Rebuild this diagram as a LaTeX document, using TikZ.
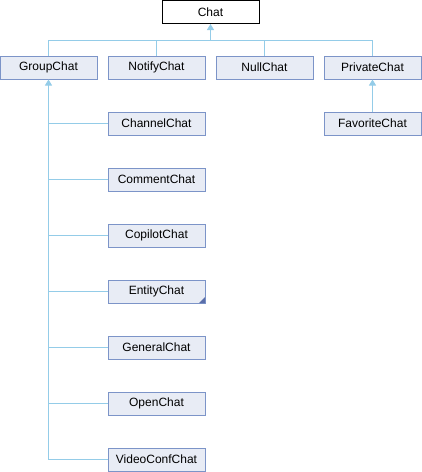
\documentclass[tikz,border=0pt]{standalone}
\usepackage{fontspec}
\setmainfont{Liberation Sans}
\usetikzlibrary{arrows.meta}
\definecolor{boxfill}{RGB}{232,236,245}
\definecolor{boxline}{RGB}{124,148,200}
\definecolor{edge}{RGB}{148,204,232}
\definecolor{marker}{RGB}{90,110,170}
\tikzset{
  cls/.style={draw=boxline, fill=boxfill, line width=1pt, minimum width=97pt, minimum height=23pt, inner sep=0pt, font=\fontsize{12}{14}\selectfont},
  rootcls/.style={cls, draw=black, fill=white},
  link/.style={draw=edge, line width=1pt},
  inherit/.style={link, -{Triangle[width=7pt,length=6pt]}}
}
\begin{document}
\begin{tikzpicture}[x=1pt,y=-1pt]
\useasboundingbox (0,0) rectangle (422,472);
\node[rootcls] (chat) at (210.5,12) {Chat};
\node[cls] (group) at (48.5,67.5) {GroupChat};
\node[cls] (notify) at (156.5,67.5) {NotifyChat};
\node[cls] (null) at (264.5,67.5) {NullChat};
\node[cls] (private) at (372.5,67.5) {PrivateChat};
\node[cls] (favorite) at (372.5,123.5) {FavoriteChat};
\node[cls] (channel) at (156.5,123.5) {ChannelChat};
\node[cls] (comment) at (156.5,179.5) {CommentChat};
\node[cls] (copilot) at (156.5,235.5) {CopilotChat};
\node[cls] (entity) at (156.5,291.5) {EntityChat};
\node[cls] (general) at (156.5,347.5) {GeneralChat};
\node[cls] (open) at (156.5,403.5) {OpenChat};
\node[cls] (video) at (156.5,459.5) {VideoConfChat};
\fill[marker] ([xshift=-0.5pt,yshift=6.5pt]entity.south east) -- ([xshift=-0.5pt,yshift=0.5pt]entity.south east) -- ([xshift=-6.5pt,yshift=0.5pt]entity.south east) -- cycle;
% Chat hierarchy
\coordinate (chatbus) at (210.5,40);
\foreach \c in {group,notify,null,private}
  \draw[link] (\c.north) |- (chatbus);
\draw[inherit] (chatbus) -- (chat.south);
% PrivateChat
\draw[inherit] (favorite.north) -- (private.south);
% GroupChat
\coordinate (groupbus) at (48.5,100);
\foreach \c in {channel,comment,copilot,entity,general,open,video}
  \draw[link] (\c.west) -| (groupbus);
\draw[inherit] (groupbus) -- (group.south);
\end{tikzpicture}
\end{document}
